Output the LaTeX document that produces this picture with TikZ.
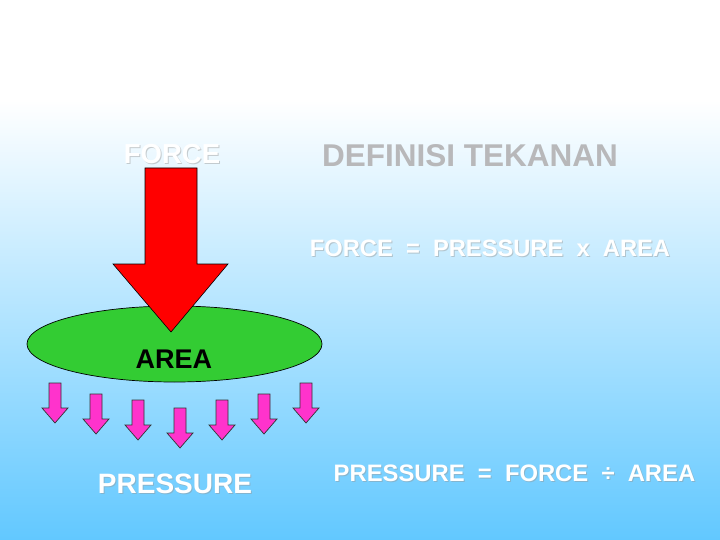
\documentclass[tikz,border=0pt]{standalone}
\usepackage{fontspec}
\setmainfont{Liberation Sans}
\usetikzlibrary{shapes.geometric}
\definecolor{skyblue}{RGB}{98,200,255}
\definecolor{areagreen}{RGB}{51,204,51}
\definecolor{pink}{RGB}{255,51,204}
\definecolor{titlegray}{RGB}{184,184,186}
\definecolor{shadowgray}{RGB}{150,150,150}
\tikzset{
  lbl/.style={font=\bfseries, text=white, inner sep=0pt, anchor=base},
  shd/.style={font=\bfseries, text=shadowgray, inner sep=0pt, anchor=base, opacity=0.45},
  pinkarrow/.style={fill=pink, draw=black!80, line width=0.7pt, line join=miter},
}
\newcommand{\shadowtext}[4]{% name, x, y, size+text
  \node[shd] at (#2+1,#3+1) {#4};
  \node[lbl] (#1) at (#2,#3) {#4};
}
\begin{document}
\begin{tikzpicture}[x=1pt,y=-1pt]
\useasboundingbox (0,0) rectangle (720,540);
% background
\fill[white] (0,0) rectangle (720,101);
\shade[top color=white, bottom color=skyblue] (0,100) rectangle (720,540);
% ellipse
\node[ellipse, draw=black, line width=0.7pt, fill=areagreen, minimum width=295pt, minimum height=76pt, inner sep=0pt] (disk) at (174.5,344) {};
% red force arrow
\draw[fill=red, draw=black, line width=0.6pt, line join=miter]
  (145,168) -- (197,168) -- (197,264) -- (228,264) -- (171,332) -- (113,264) -- (145,264) -- cycle;
\node[font=\bfseries\fontsize{27}{27}\selectfont, text=black, inner sep=0pt, anchor=base] (areatxt) at (174,368) {AREA};
% pressure arrows
\foreach \x/\t in {55/383, 96/394, 138/400, 180/408, 222/400, 264/394, 306/383}{
  \draw[pinkarrow] (\x-6,\t) -- (\x+6,\t) -- (\x+6,\t+25) -- (\x+13,\t+25) -- (\x,\t+40) -- (\x-13,\t+25) -- (\x-6,\t+25) -- cycle;
}
% texts
\shadowtext{force}{172}{164}{\fontsize{27.5}{27.5}\selectfont FORCE}
\node[font=\bfseries\fontsize{31.5}{31.5}\selectfont, text=titlegray, inner sep=0pt, anchor=base] (title) at (470,167) {DEFINISI TEKANAN};
\shadowtext{eq1}{490}{256}{\fontsize{23.7}{23.7}\selectfont FORCE\ \ =\ \ PRESSURE\ \ x\ \ AREA}
\shadowtext{press}{175}{493}{\fontsize{28}{28}\selectfont PRESSURE}
\shadowtext{eq2}{514.5}{481}{\fontsize{23.8}{23.8}\selectfont PRESSURE\ \ =\ \ FORCE\ \ ÷\ \ AREA}
\end{tikzpicture}
\end{document}
